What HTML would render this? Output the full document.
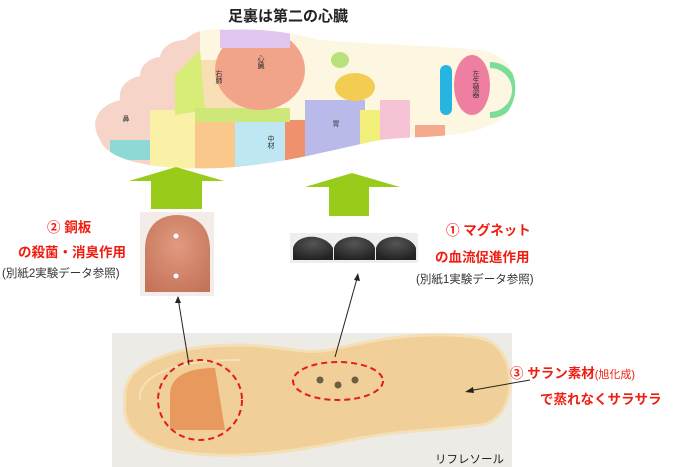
<!DOCTYPE html>
<html><head><meta charset="utf-8"><style>
body{margin:0;width:683px;height:467px;background:#fff;position:relative;overflow:hidden;font-family:"Liberation Sans","Noto Sans CJK JP",sans-serif}
.t{position:absolute;white-space:nowrap}
.r{color:#f01c10;font-weight:bold;font-size:13.5px}
.g{color:#333;font-size:11.5px}
.f{position:absolute;font-size:7px;color:#333;writing-mode:vertical-rl;white-space:nowrap}
</style></head><body>
<svg width="683" height="467" style="position:absolute;left:0;top:0">
<defs><clipPath id="foot"><path d="M100,140 C88,120 100,105 120,100 C118,85 130,78 140,76 C140,65 150,58 160,57 C162,45 175,40 185,40 C195,30 210,28 225,30 C260,28 290,32 320,40 C380,45 430,45 480,50 C520,55 525,100 500,120 C470,140 420,135 380,140 C330,150 280,165 220,168 C170,170 110,165 100,140Z"/></clipPath>
<radialGradient id="cu" cx="50%" cy="40%" r="70%"><stop offset="0" stop-color="#e09a80"/><stop offset="1" stop-color="#c47358"/></radialGradient>
<radialGradient id="mg" cx="50%" cy="30%" r="70%"><stop offset="0" stop-color="#555"/><stop offset="1" stop-color="#222"/></radialGradient></defs>
<g clip-path="url(#foot)">
<rect x="90" y="20" width="440" height="160" fill="#fdf6e0"/>
<rect x="90" y="20" width="110" height="160" fill="#f7d4c8"/>
<rect x="150" y="110" width="50" height="60" fill="#fbf1a6"/>
<rect x="195" y="110" width="45" height="60" fill="#f9c88a"/>
<rect x="235" y="120" width="55" height="55" fill="#bfe6f3"/>
<rect x="285" y="120" width="25" height="55" fill="#f0916e"/>
<rect x="305" y="100" width="60" height="70" fill="#b9b9ea"/>
<rect x="360" y="110" width="25" height="50" fill="#f2ef7a"/>
<rect x="380" y="100" width="30" height="60" fill="#f6c3d4"/>
<rect x="195" y="60" width="50" height="50" fill="#f9dfb5"/>
<path d="M175,75 L200,50 L205,110 L175,115Z" fill="#d8ec78"/>
<rect x="195" y="108" width="95" height="14" fill="#cde879"/>
<ellipse cx="260" cy="70" rx="45" ry="40" fill="#f2a48a"/>
<rect x="220" y="28" width="70" height="20" fill="#e0c6ef"/>
<ellipse cx="355" cy="87" rx="20" ry="14" fill="#f3cd52"/>
<ellipse cx="340" cy="60" rx="9" ry="8" fill="#b8e27b"/>
<rect x="440" y="65" width="12" height="50" rx="6" fill="#26b5e0"/>
<ellipse cx="472" cy="85" rx="18" ry="30" fill="#ee7fa0"/>
<path d="M490,65 A22,22 0 0 1 490,115" stroke="#7cdc9a" stroke-width="6" fill="none"/>
<rect x="415" y="125" width="30" height="15" fill="#f4a98c"/>
<rect x="110" y="140" width="40" height="20" fill="#8ed9d6"/>
</g>
<path d="M129,181 L176,167 L224,181 L202,181 L202,209 L151,209 L151,181Z" fill="#99cc1a"/>
<path d="M305,187 L352,173 L400,187 L369,187 L369,216 L329,216 L329,187Z" fill="#99cc1a"/>
<rect x="140" y="212" width="74" height="84" fill="#f4ece8"/>
<path d="M145,292 L145,250 C145,225 160,215 177,215 C195,215 210,225 210,250 L210,292Z" fill="url(#cu)"/>
<circle cx="176" cy="236" r="2.5" fill="#fff"/><circle cx="176" cy="276" r="2.5" fill="#fff"/>
<rect x="290" y="233" width="128" height="30" fill="#eee"/>
<path d="M293,260 L293,248 C297,233 325,233 333,248 L333,260Z" fill="url(#mg)"/>
<path d="M334,260 L334,248 C338,233 370,233 375,248 L375,260Z" fill="url(#mg)"/>
<path d="M376,260 L376,248 C380,233 410,233 416,248 L416,260Z" fill="url(#mg)"/>
<rect x="112" y="333" width="400" height="134" fill="#ecebe6"/>
<path d="M125,400 C120,365 170,345 240,345 C280,345 300,355 330,350 C380,338 430,330 480,338 C520,345 520,420 480,425 C440,430 400,430 350,440 C280,455 220,460 170,450 C130,440 122,420 125,400Z" fill="#f0cf98" stroke="#f5dfb6" stroke-width="3"/>
<path d="M140,400 C138,375 175,360 240,360" stroke="#f6e1b6" stroke-width="2" fill="none"/>
<path d="M170,395 C170,375 190,368 215,368 L225,430 L170,430Z" fill="#e89a5e"/>
<circle cx="320" cy="380" r="3.5" fill="#6d6040"/><circle cx="338" cy="385" r="3.5" fill="#6d6040"/><circle cx="355" cy="380" r="3.5" fill="#6d6040"/>
<ellipse cx="200" cy="400" rx="42" ry="40" fill="none" stroke="#e21c1c" stroke-width="2" stroke-dasharray="6,4"/>
<ellipse cx="338" cy="381" rx="45" ry="19" fill="none" stroke="#e21c1c" stroke-width="2" stroke-dasharray="6,4"/>
<line x1="189" y1="365" x2="178" y2="298" stroke="#222"/><path d="M178,296 l-3,7 6,0z" fill="#222"/>
<line x1="335" y1="357" x2="358" y2="275" stroke="#222"/><path d="M358,273 l-4,7 6,1z" fill="#222"/>
<line x1="530" y1="380" x2="468" y2="391" stroke="#222"/><path d="M465,392 l8,-5 1,6z" fill="#222"/>
</svg>
<div class="f" style="left:255px;top:55px">心臓</div>
<div class="f" style="left:265px;top:135px">中材</div>
<div class="f" style="left:330px;top:120px">胃</div>
<div class="f" style="left:470px;top:70px">左生殖器</div>
<div class="f" style="left:120px;top:115px">鼻</div>
<div class="f" style="left:213px;top:70px">右肺</div>
<div class="t" style="left:228px;top:5px;font-size:15px;font-weight:bold;color:#222">足裏は第二の心臓</div>
<div class="t r" style="left:47px;top:216px">② 銅板</div>
<div class="t r" style="left:18px;top:241px">の殺菌・消臭作用</div>
<div class="t g" style="left:2px;top:265px">(別紙2実験データ参照)</div>
<div class="t r" style="left:446px;top:219px">① マグネット</div>
<div class="t r" style="left:435px;top:246px">の血流促進作用</div>
<div class="t g" style="left:416px;top:271px">(別紙1実験データ参照)</div>
<div class="t r" style="left:510px;top:362px">③ サラン素材<span style="font-weight:normal;font-size:11px">(旭化成)</span></div>
<div class="t r" style="left:540px;top:388px">で蒸れなくサラサラ</div>
<div class="t" style="left:435px;top:451px;font-size:11.5px;color:#222">リフレソール</div>
</body></html>
